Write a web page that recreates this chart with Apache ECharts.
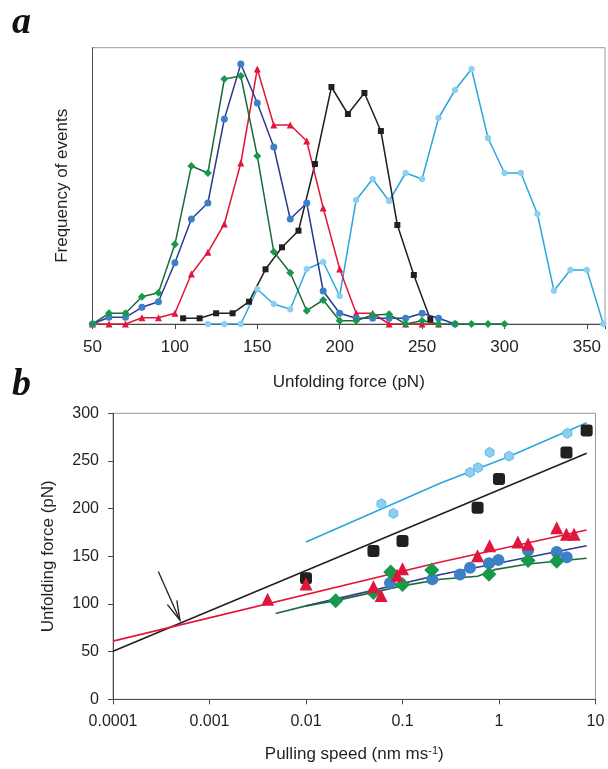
<!DOCTYPE html>
<html><head><meta charset="utf-8">
<script src="https://cdn.jsdelivr.net/npm/echarts@6/dist/echarts.min.js"></script>
<style>html,body{margin:0;padding:0;background:#fff}#c{width:608px;height:769px}</style>
</head><body><div id="c"></div><script>
// ---------- Panel a: force histograms (frequency in arbitrary units) ----------
const greenA_x = [50,60,70,80,90,100,110,120,130,140,150,160,170,180,190,200,210,220,230,240,250,260,270,280,290,300];
const greenA_y = [0,1.07,1.07,2.73,3.13,7.97,15.8,15.1,24.5,24.8,16.8,7.23,5.13,1.33,2.4,0.33,0.33,0.9,0.97,0,0.33,0,0,0,0,0];
const blueA_x = [50,60,70,80,90,100,110,120,130,140,150,160,170,180,190,200,210,220,230,240,250,260,270];
const blueA_y = [0,0.67,0.67,1.67,2.23,6.13,10.5,12.1,20.5,26,22.1,17.7,10.5,12.1,3.3,1.07,0.57,0.57,0.57,0.57,1.07,0.57,0];
const redA_x = [50,60,70,80,90,100,110,120,130,140,150,160,170,180,190,200,210,220,230,240,250,260];
const redA_y = [0,0,0,0.63,0.63,1.07,5,7.17,10,16.1,25.5,19.9,19.9,18.3,11.6,5.5,1.07,1.07,0,0,0,0];
const blackA_x = [105,115,125,135,145,155,165,175,185,195,205,215,225,235,245,255];
const blackA_y = [0.57,0.57,1.07,1.07,2.23,5.47,7.67,9.33,16,23.7,21,23.1,19.3,9.9,4.9,0.47];
const cyanA_x = [120,130,140,150,160,170,180,190,200,210,220,230,240,250,260,270,280,290,300,310,320,330,340,350,360];
const cyanA_y = [0,0,0,3.47,2,1.47,5.5,6.2,2.8,12.4,14.5,12.3,15.1,14.5,20.6,23.4,25.5,18.6,15.1,15.1,11,3.33,5.4,5.4,0];
const forceTicks = [50,100,150,200,250,300,350];

// ---------- Panel b: unfolding force vs pulling speed ----------
const cyanB_x = [0.0604,0.0805,0.501,0.606,0.80,1.27,5.11];
const cyanB_y = [205,195,238,243,259,255,279];
const blackB_x = [0.01,0.05,0.1,0.6,1.0,5.0,8.1];
const blackB_y = [127,155.5,166,201,231,259,282];
const redB_x = [0.004,0.01,0.05,0.06,0.088,0.1,0.6,0.8,1.57,2.0,3.96,5.0,6.0];
const redB_y = [105,121,118,109,130,137,150.5,161,165,163,180,173,173];
const blueB_x = [0.0742,0.204,0.394,0.501,0.787,0.987,2.0,3.96,5.03];
const blueB_y = [122,126,131,138,142.6,146,156,154.5,149];
const greenB_x = [0.0203,0.05,0.0755,0.1,0.201,0.787,2.0,3.96];
const greenB_y = [103.4,112,133.5,120.5,135.5,131.3,145.5,144.8];

// fitted lines
const cyanFit_x = [0.01,0.249,1.22,8.1];
const cyanFit_y = [165,227,254,290];
const blackFit_x = [0.0001,8.1];
const blackFit_y = [50.5,258];
const redFit_x = [0.0001,0.249,8.1];
const redFit_y = [61,144,177.5];
const navyFit_x = [0.01,0.249,8.1];
const navyFit_y = [98,131,161];
const greenFit_x = [0.00485,0.01,0.0203,0.1,0.25,0.6,0.9,2.0,8.1];
const greenFit_y = [90,98,103.5,119,126,129,136,142,148];

// arrow (data coords: speed, force)
const arrowFrom = [0.000295,134];
const arrowTo = [0.000494,83];
const speedTicks = ['0.0001','0.001','0.01','0.1','1','10'];

const C = {
  green:'#1c6b3a', greenFill:'#16994a',
  navy:'#2c3a8e', blueFill:'#3b80c9',
  red:'#e1163c', black:'#231f20',
  cyan:'#2ba7df', cyanFill:'#8ccff1'
};
const FONT = 'Liberation Sans';
const TXT = '#231f20';
const hexPath = 'path://M0,-10L8.66,-5L8.66,5L0,10L-8.66,5L-8.66,-5Z';

function zip(xs, ys){ return xs.map((x,i)=>[x, ys[i]]); }

const chart = echarts.init(document.getElementById('c'), null, {renderer:'canvas'});

function lineA(name, xs, ys, color, fill, symbol, size){
  return {
    type:'line', name, xAxisIndex:0, yAxisIndex:0, data: zip(xs, ys),
    symbol, symbolSize:size, showSymbol:true, symbolKeepAspect:true,
    lineStyle:{color, width:1.5}, itemStyle:{color:fill, borderColor:fill, borderWidth:0},
    animation:false, z:3
  };
}
function fitB(xs, ys, color){
  return { type:'line', xAxisIndex:1, yAxisIndex:1, data: zip(xs, ys), showSymbol:false, symbol:'none',
    lineStyle:{color, width:1.6}, animation:false, z:2 };
}
function ptsB(xs, ys, fill, symbol, size, border){
  return { type:'scatter', xAxisIndex:1, yAxisIndex:1, data: zip(xs, ys), symbol, symbolSize:size,
    symbolKeepAspect:true,
    itemStyle:{color:fill, borderColor: border || fill, borderWidth: border ? 1 : 0, opacity:1}, animation:false, z:4 };
}

const option = {
  backgroundColor:'#fff',
  animation:false,
  textStyle:{fontFamily:FONT, color:TXT},
  grid:[
    {left:92.5, top:47.7, width:514, height:276.3, show:true, borderColor:'#9a9a9a', borderWidth:1, containLabel:false},
    {left:113, top:413.3, width:482.5, height:286, show:true, borderColor:'#9a9a9a', borderWidth:1, containLabel:false}
  ],
  xAxis:[
    {type:'value', gridIndex:0, min:50, max:361, interval:50,
     axisLine:{show:true, lineStyle:{color:'#4a4a4a', width:1}},
     axisTick:{show:true, inside:false, length:5, lineStyle:{color:'#4a4a4a'}},
     splitLine:{show:false},
     axisLabel:{show:true, margin:15, fontSize:17, fontFamily:FONT, color:TXT,
       formatter: v => forceTicks.indexOf(v) >= 0 ? String(v) : ''},
     name:'Unfolding force (pN)', nameLocation:'middle', nameGap:50,
     nameTextStyle:{fontSize:17, fontFamily:FONT, color:TXT}},
    {type:'log', gridIndex:1, logBase:10, min:0.0001, max:10,
     axisLine:{show:true, lineStyle:{color:'#4a4a4a', width:1}},
     axisTick:{show:true, inside:false, length:5, lineStyle:{color:'#4a4a4a'}},
     minorTick:{show:false}, splitLine:{show:false},
     axisLabel:{show:true, margin:14, fontSize:16, fontFamily:FONT, color:TXT,
       formatter: v => { const e = Math.round(Math.log10(v)); return speedTicks[e + 4] || ''; }},
     name:'Pulling speed (nm ms{sup|-1})', nameLocation:'middle', nameGap:46,
     nameTextStyle:{fontSize:17, fontFamily:FONT, color:TXT,
       rich:{sup:{fontSize:11, fontFamily:FONT, color:TXT, verticalAlign:'top', padding:[0,0,8,0]}}}}
  ],
  yAxis:[
    {type:'value', gridIndex:0, min:0, max:27.63,
     axisLine:{show:true, lineStyle:{color:'#4a4a4a', width:1}},
     axisTick:{show:false}, axisLabel:{show:false}, splitLine:{show:false},
     name:'Frequency of events', nameLocation:'middle', nameGap:22, nameRotate:90,
     nameTextStyle:{fontSize:17, fontFamily:FONT, color:TXT}},
    {type:'value', gridIndex:1, min:0, max:300, interval:50,
     axisLine:{show:true, lineStyle:{color:'#4a4a4a', width:1}},
     axisTick:{show:true, inside:false, length:5, lineStyle:{color:'#4a4a4a'}},
     splitLine:{show:false},
     axisLabel:{show:true, margin:14, fontSize:16, fontFamily:FONT, color:TXT},
     name:'Unfolding force (pN)', nameLocation:'middle', nameGap:56, nameRotate:90,
     nameTextStyle:{fontSize:17, fontFamily:FONT, color:TXT}}
  ],
  graphic:[
    {type:'text', left:12, top:4, style:{text:'a', font:'italic bold 38px "Liberation Serif"', fill:'#111'}},
    {type:'text', left:12, top:366, style:{text:'b', font:'italic bold 38px "Liberation Serif"', fill:'#111'}}
  ],
  series:[
    lineA('cyanA', cyanA_x, cyanA_y, C.cyan, C.cyanFill, hexPath, 7),
    lineA('blackA', blackA_x, blackA_y, C.black, C.black, 'rect', 6),
    lineA('redA', redA_x, redA_y, C.red, C.red, 'triangle', 7),
    lineA('blueA', blueA_x, blueA_y, C.navy, C.blueFill, 'circle', 7),
    lineA('greenA', greenA_x, greenA_y, C.green, C.greenFill, 'diamond', 8),

    fitB(cyanFit_x, cyanFit_y, C.cyan),
    fitB(blackFit_x, blackFit_y, C.black),
    fitB(redFit_x, redFit_y, C.red),
    fitB(navyFit_x, navyFit_y, C.navy),
    fitB(greenFit_x, greenFit_y, C.green),

    ptsB(cyanB_x, cyanB_y, C.cyanFill, hexPath, 10, '#5dbbe9'),
    ptsB(blackB_x, blackB_y, C.black, 'roundRect', 12),
    ptsB(blueB_x, blueB_y, C.blueFill, 'circle', 12),
    ptsB(greenB_x, greenB_y, C.greenFill, 'diamond', 15),
    ptsB(redB_x, redB_y, C.red, 'triangle', 13),

    {type:'custom', xAxisIndex:1, yAxisIndex:1, animation:false, z:5,
     data:[[arrowFrom[0], arrowFrom[1], arrowTo[0], arrowTo[1]]],
     encode:{x:[0,2], y:[1,3]},
     renderItem:(params, api) => {
       const p0 = api.coord([api.value(0), api.value(1)]);
       const p1 = api.coord([api.value(2), api.value(3)]);
       const ang = Math.atan2(p0[1]-p1[1], p0[0]-p1[0]);
       const L = 20, da = 15 * Math.PI/180;
       const a1 = [p1[0] + L*Math.cos(ang+da), p1[1] + L*Math.sin(ang+da)];
       const a2 = [p1[0] + L*Math.cos(ang-da), p1[1] + L*Math.sin(ang-da)];
       const st = {stroke:'#231f20', lineWidth:1.3, fill:null};
       return {type:'group', children:[
         {type:'line', shape:{x1:p0[0], y1:p0[1], x2:p1[0], y2:p1[1]}, style:st},
         {type:'polyline', shape:{points:[a1, p1, a2]}, style:st}
       ]};
     }}
  ]
};
chart.setOption(option);
</script></body></html>
